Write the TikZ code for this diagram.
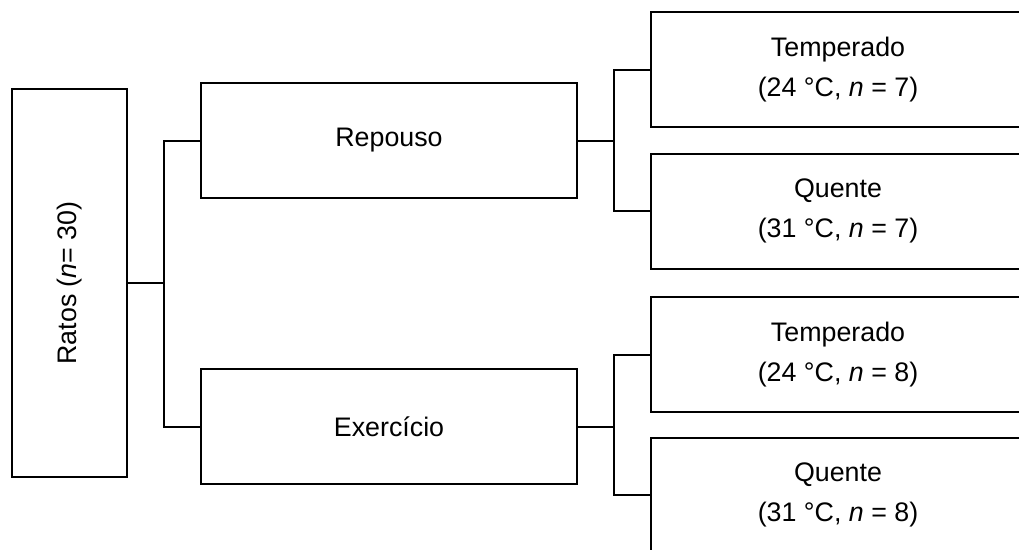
\documentclass[tikz,border=0pt]{standalone}
\usepackage{fontspec}
\setmainfont{Liberation Sans}
\begin{document}
\begin{tikzpicture}[x=1pt,y=-1pt,line width=2pt,
  box/.style={draw=black,rectangle,inner sep=0pt,align=center,
    font=\fontsize{26.8}{40}\selectfont},
  mid/.style={box,minimum width=376pt,minimum height=115pt},
  big/.style={box,minimum width=374pt,minimum height=115pt},
  link/.style={draw=black,line width=2pt}]
\clip (0,0) rectangle (1019,549);
\node[box,rotate=90,minimum width=388pt,minimum height=115pt] (ratos) at (69.5,283) {Ratos (\textit{n}= 30)};
\node[mid] (rep) at (389,140.5) {Repouso};
\node[mid] (exe) at (389,426.5) {Exercício};
\node[big] (t1) at (838,69.5) {Temperado\\(24 °C, \textit{n} = 7)};
\node[big] (q1) at (838,211) {Quente\\(31 °C, \textit{n} = 7)};
\node[big] (t2) at (838,354.5) {Temperado\\(24 °C, \textit{n} = 8)};
\node[big] (q2) at (838,495) {Quente\\(31 °C, \textit{n} = 8)};
\coordinate (j0) at (164,283);
\coordinate (j1) at (614,140.5);
\coordinate (j2) at (614,426.5);
\draw[link] (ratos.south) -- (j0);
\draw[link] (rep.west) -| (j0) |- (exe.west);
\draw[link] (rep.east) -- (j1);
\draw[link] (t1.west) -| (j1) |- (q1.west);
\draw[link] (exe.east) -- (j2);
\draw[link] (t2.west) -| (j2) |- (q2.west);
\end{tikzpicture}
\end{document}
